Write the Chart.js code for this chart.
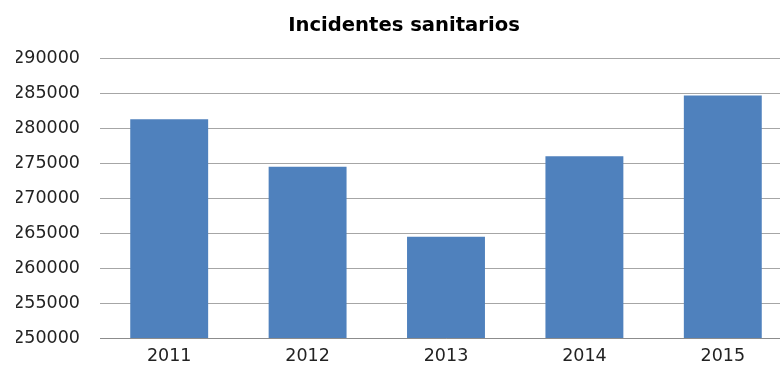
<!DOCTYPE html>
<html>
<head>
<meta charset="utf-8">
<script src="https://cdn.jsdelivr.net/npm/chart.js@4"></script>
<style>
html,body{margin:0;padding:0;overflow:hidden;background:#fff;}
#wrap{width:800px;height:369px;}
</style>
</head>
<body>
<div id="wrap"><canvas id="c" width="800" height="369"></canvas></div>
<script>
const categories = ["2011", "2012", "2013", "2014", "2015"];
const incidentes = [281300, 274500, 264500, 276000, 284700];
const chartTitle = "Incidentes sanitarios";
const yMin = 250000, yMax = 290000, yStep = 5000;

new Chart(document.getElementById('c'), {
  type: 'bar',
  data: {
    labels: categories,
    datasets: [{
      label: chartTitle,
      data: incidentes,
      backgroundColor: '#4f81bd',
      borderWidth: 0,
      categoryPercentage: 1,
      barPercentage: 0.563
    }]
  },
  options: {
    responsive: false,
    animation: false,
    layout: { padding: { left: 16, right: 8, top: 0, bottom: 0 } },
    plugins: {
      legend: { display: false },
      tooltip: { enabled: false },
      title: {
        display: true,
        text: chartTitle,
        color: '#000',
        font: { family: 'DejaVu Sans', size: 19.6, weight: 'bold' },
        padding: { top: 14, bottom: 21 }
      }
    },
    scales: {
      x: {
        grid: { display: false, drawTicks: false },
        border: { display: true, color: '#8c8c8c', width: 1 },
        ticks: { color: '#222', font: { family: 'DejaVu Sans', size: 17.5 }, padding: 8 },
        afterFit: s => { s.height = 31; }
      },
      y: {
        min: yMin, max: yMax,
        ticks: { stepSize: yStep, color: '#222', font: { family: 'DejaVu Sans', size: 17.5 }, padding: 20,
                 callback: v => String(v) },
        grid: { color: '#a6a6a6', drawTicks: false, lineWidth: 1 },
        border: { display: false },
        afterFit: s => { s.width = 84; }
      }
    }
  }
});
</script>
</body>
</html>
